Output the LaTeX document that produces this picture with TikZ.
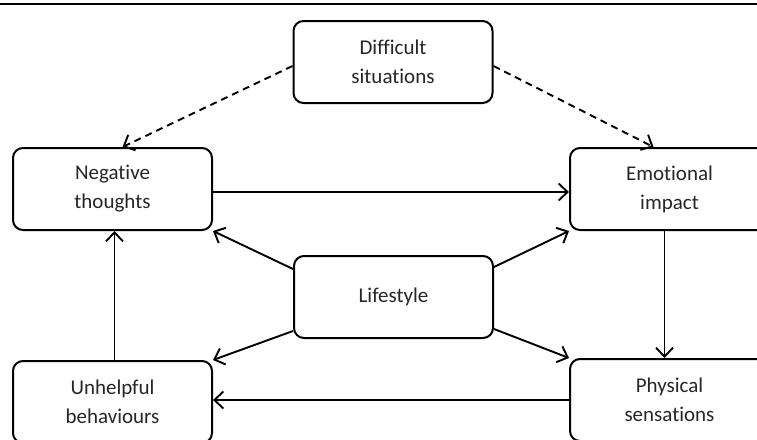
\documentclass[tikz,border=0pt]{standalone}
\usepackage{fontspec}
\setmainfont[Ligatures=NoCommon]{Carlito}
\usetikzlibrary{arrows.meta}

\begin{document}
\begin{tikzpicture}[x=1pt,y=-1pt,
	box/.style={draw,line width=2pt,rounded corners=10pt,fill=white,align=center,minimum width=199pt,minimum height=82pt,font=\fontsize{21}{29}\selectfont,text=black!85},
	link/.style={line width=1.9pt,-{Straight Barb[length=9pt,width=17pt]}},
	hint/.style={link,dash pattern=on 7pt off 5pt}]
	\useasboundingbox (0,0) rectangle (757,439);
	\draw[line width=2.5pt] (0,4) -- (757,4);

	\node[box] (dif) at (393,62) {Difficult\\situations};
	\node[box] (neg) at (112.5,189) {Negative\\thoughts};
	\node[box] (emo) at (669.5,189) {Emotional\\impact};
	\node[box] (lif) at (393.5,297) {Lifestyle};
	\node[box] (unh) at (112.5,402) {Unhelpful\\behaviours};
	\node[box] (phy) at (669.5,400) {Physical\\sensations};

	\draw[hint] ([yshift=-4]dif.west) -- ([xshift=10]neg.north);
	\draw[hint] ([yshift=-4]dif.east) -- ([xshift=-16]emo.north);
	\draw[link] ([yshift=-3]neg.east) -- ([yshift=-3]emo.west);
	\draw[link] ([yshift=-14]lif.north west) -- (neg.south east);
	\draw[link] ([yshift=-12]lif.north east) -- (emo.south west);
	\draw[link] ([yshift=8]lif.south west) -- (unh.north east);
	\draw[link] ([yshift=10]lif.south east) -- (phy.north west);
	\draw[link] ([xshift=-5]emo.south) -- ([xshift=-5]phy.north);
	\draw[link] (phy.west) -- (phy.west -| unh.east);
	\draw[link] ([xshift=2]unh.north) -- ([xshift=2]neg.south);
\end{tikzpicture}
\end{document}
